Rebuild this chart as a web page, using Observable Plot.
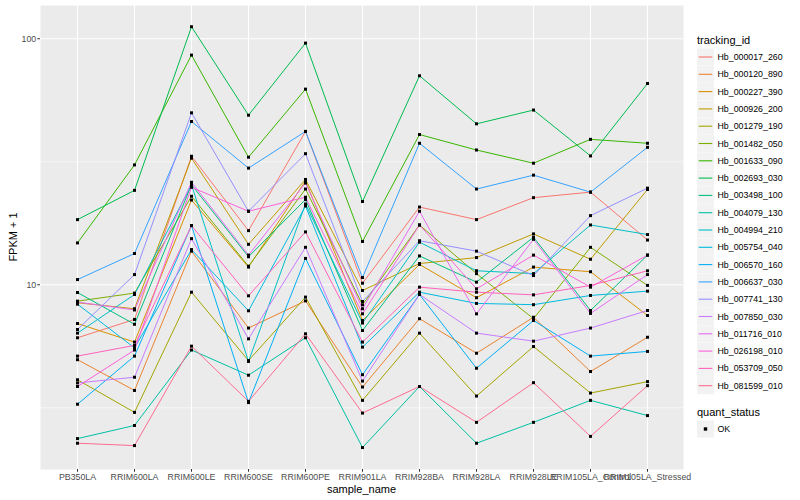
<!DOCTYPE html>
<html>
<head>
<meta charset="utf-8">
<script src="https://cdn.jsdelivr.net/npm/d3@7"></script>
<script src="https://cdn.jsdelivr.net/npm/@observablehq/plot@0.6"></script>
<style>
  body { margin: 0; background: white; }
  #wrap { position: relative; width: 800px; height: 500px; font-family: "Liberation Sans", Arial, sans-serif; }
  #overlay { position: absolute; left: 0; top: 0; pointer-events: none; }
</style>
</head>
<body>
<div id="wrap"></div>
<script>
const samples = ["PB350LA","RRIM600LA","RRIM600LE","RRIM600SE","RRIM600PE","RRIM901LA","RRIM928BA","RRIM928LA","RRIM928LE","RRIM105LA_Control","RRIM105LA_Stressed"];
const trackingIds = ["Hb_000017_260","Hb_000120_890","Hb_000227_390","Hb_000926_200","Hb_001279_190","Hb_001482_050","Hb_001633_090","Hb_002693_030","Hb_003498_100","Hb_004079_130","Hb_004994_210","Hb_005754_040","Hb_006570_160","Hb_006637_030","Hb_007741_130","Hb_007850_030","Hb_011716_010","Hb_026198_010","Hb_053709_050","Hb_081599_010"];
const palette = ["#F8766D","#EA8331","#D89000","#C09B00","#A3A500","#7CAE00","#39B600","#00BB4E","#00BF7D","#00C1A3","#00BFC4","#00BAE0","#00B0F6","#35A2FF","#9590FF","#C77CFF","#E76BF3","#FA62DB","#FF62BC","#FF6C91"];
const quantStatus = ["OK"];
const yTicks = [10, 100];

// FPKM + 1 per sample (order of samples)
const Hb_000017_260 = [6.09, 7.23, 33.3, 16.6, 42.0, 10.15, 20.7, 18.4, 22.6, 23.8, 15.2];
const Hb_000120_890 = [4.96, 3.72, 13.7, 6.67, 8.6, 3.84, 7.28, 5.27, 7.38, 4.44, 6.12];
const Hb_000227_390 = [6.96, 5.85, 22.1, 11.8, 26.4, 7.16, 12.1, 8.86, 11.8, 11.3, 7.5];
const Hb_000926_200 = [8.45, 7.99, 32.7, 14.6, 26.8, 9.48, 12.2, 12.9, 16.1, 12.7, 24.4];
const Hb_001279_190 = [4.11, 3.03, 9.33, 4.92, 8.91, 3.39, 6.36, 3.53, 5.61, 3.63, 4.04];
const Hb_001482_050 = [8.58, 9.25, 22.9, 11.9, 24.5, 8.29, 17.5, 11.1, 7.28, 14.2, 9.94];
const Hb_001633_090 = [14.8, 30.7, 85.8, 33.0, 62.4, 15.0, 40.8, 35.3, 31.2, 39.0, 37.6];
const Hb_002693_030 = [18.4, 24.2, 111.9, 48.9, 96, 21.8, 70.7, 45.1, 51.3, 33.4, 65.8];
const Hb_003498_100 = [9.3, 6.91, 25.5, 13.0, 22.2, 6.52, 13.1, 10.25, 15.6, 7.86, 13.2];
const Hb_004079_130 = [2.37, 2.68, 5.43, 4.29, 6.09, 2.18, 3.86, 2.27, 2.76, 3.39, 2.94];
const Hb_004994_210 = [6.36, 9.13, 25.5, 4.88, 21.3, 6.99, 14.9, 11.4, 11.1, 17.5, 16.0];
const Hb_005754_040 = [8.34, 5.54, 13.9, 7.84, 20.9, 5.58, 9.33, 8.4, 8.3, 9.05, 9.42];
const Hb_006570_160 = [3.27, 5.13, 17.4, 3.32, 12.8, 4.31, 9.13, 4.58, 7.16, 5.13, 5.36];
const Hb_006637_030 = [10.5, 13.4, 46.1, 29.8, 42.0, 10.7, 37.6, 24.5, 27.9, 23.8, 36.2];
const Hb_007741_130 = [6.58, 11.0, 50.0, 19.9, 34.1, 8.55, 15.1, 13.7, 10.9, 19.1, 24.7];
const Hb_007850_030 = [3.99, 4.21, 15.4, 6.03, 14.2, 4.06, 9.13, 6.36, 5.9, 6.67, 7.86];
const Hb_011716_010 = [8.5, 7.9, 26.1, 13.2, 25.9, 7.99, 19.9, 7.62, 15.3, 7.65, 11.0];
const Hb_026198_010 = [3.86, 5.43, 24.9, 19.9, 22.7, 7.62, 17.5, 9.63, 13.2, 9.78, 13.2];
const Hb_053709_050 = [5.13, 5.67, 17.4, 9.02, 16.4, 5.85, 9.78, 9.33, 9.1, 9.94, 11.4];
const Hb_081599_010 = [2.27, 2.22, 5.63, 3.36, 6.32, 3.01, 3.86, 2.76, 4.0, 2.42, 3.89];

const seriesValues = [Hb_000017_260, Hb_000120_890, Hb_000227_390, Hb_000926_200, Hb_001279_190, Hb_001482_050, Hb_001633_090, Hb_002693_030, Hb_003498_100, Hb_004079_130, Hb_004994_210, Hb_005754_040, Hb_006570_160, Hb_006637_030, Hb_007741_130, Hb_007850_030, Hb_011716_010, Hb_026198_010, Hb_053709_050, Hb_081599_010];

const rows = trackingIds.flatMap((id, i) => samples.map((s, j) => ({id, sample: s, value: seriesValues[i][j], status: "OK"})));

const W = 800, H = 500;
const mL = 40, mR = 117, mT = 5, mB = 31;

const chart = Plot.plot({
  width: W, height: H,
  marginLeft: mL, marginRight: mR, marginTop: mT, marginBottom: mB,
  style: {fontFamily: '"Liberation Sans", Arial, sans-serif', fontSize: "8.8px", background: "white", overflow: "visible"},
  x: {type: "point", domain: samples, padding: 0.6, label: null},
  y: {type: "log", domain: [1.775, 136.5], label: null},
  color: {domain: trackingIds, range: palette},
  marks: [
    Plot.frame({fill: "#EBEBEB", stroke: "none"}),
    Plot.ruleY([Math.sqrt(10), Math.sqrt(1000)], {stroke: "white", strokeWidth: 0.55}),
    Plot.ruleY(yTicks, {stroke: "white", strokeWidth: 1.1}),
    Plot.ruleX(samples, {stroke: "white", strokeWidth: 1.1}),
    Plot.line(rows, {x: "sample", y: "value", z: "id", stroke: "id", strokeWidth: 1}),
    Plot.dot(rows, {x: "sample", y: "value", symbol: "square", r: 1.7, fill: "black", stroke: "none"}),
    Plot.axisX({tickSize: 2.75, tickPadding: 1.5, stroke: "#333333", fill: "#4D4D4D", label: null, fontSize: 8.8}),
    Plot.axisY({ticks: yTicks, tickFormat: d => String(d), tickSize: 2.75, tickPadding: 1.5, stroke: "#333333", fill: "#4D4D4D", label: null, fontSize: 8.8})
  ]
});

const wrap = document.getElementById("wrap");
wrap.appendChild(chart);

// overlay: axis titles and legend
const ov = d3.select(wrap).append("svg")
  .attr("id", "overlay")
  .attr("width", W).attr("height", H)
  .style("font-family", '"Liberation Sans", Arial, sans-serif');

ov.append("text")
  .attr("transform", `translate(13,${(mT + H - mB) / 2}) rotate(-90)`)
  .attr("text-anchor", "middle").attr("dominant-baseline", "central")
  .attr("font-size", 11).attr("fill", "black").text("FPKM + 1");

ov.append("text")
  .attr("x", (mL + W - mR) / 2).attr("y", 489)
  .attr("text-anchor", "middle").attr("dominant-baseline", "central")
  .attr("font-size", 11).attr("fill", "black").text("sample_name");

const lgX = 697, lgY0 = 57, lgStep = 17.3, key = 17;
ov.append("text").attr("x", lgX).attr("y", 40)
  .attr("dominant-baseline", "central").attr("font-size", 11).text("tracking_id");

const items = ov.selectAll("g.item").data(trackingIds).join("g")
  .attr("class", "item")
  .attr("transform", (d, i) => `translate(${lgX},${lgY0 + i * lgStep})`);
items.append("rect").attr("x", 0).attr("y", -key / 2).attr("width", key).attr("height", key).attr("fill", "#F2F2F2");
items.append("line").attr("x1", 1.7).attr("x2", key - 1.7).attr("y1", 0).attr("y2", 0)
  .attr("stroke", (d, i) => palette[i]).attr("stroke-width", 1.1);
items.append("text").attr("x", key + 3.5).attr("y", 0).attr("dominant-baseline", "central")
  .attr("font-size", 8.8).attr("fill", "black").text(d => d);

ov.append("text").attr("x", lgX).attr("y", 412)
  .attr("dominant-baseline", "central").attr("font-size", 11).text("quant_status");
const q = ov.selectAll("g.q").data(quantStatus).join("g")
  .attr("class", "q")
  .attr("transform", (d, i) => `translate(${lgX},${429 + i * lgStep})`);
q.append("rect").attr("x", 0).attr("y", -key / 2).attr("width", key).attr("height", key).attr("fill", "#F2F2F2");
q.append("rect").attr("x", key / 2 - 1.7).attr("y", -1.7).attr("width", 3.4).attr("height", 3.4).attr("fill", "black");
q.append("text").attr("x", key + 3.5).attr("y", 0).attr("dominant-baseline", "central")
  .attr("font-size", 8.8).attr("fill", "black").text(d => d);
</script>
</body>
</html>
